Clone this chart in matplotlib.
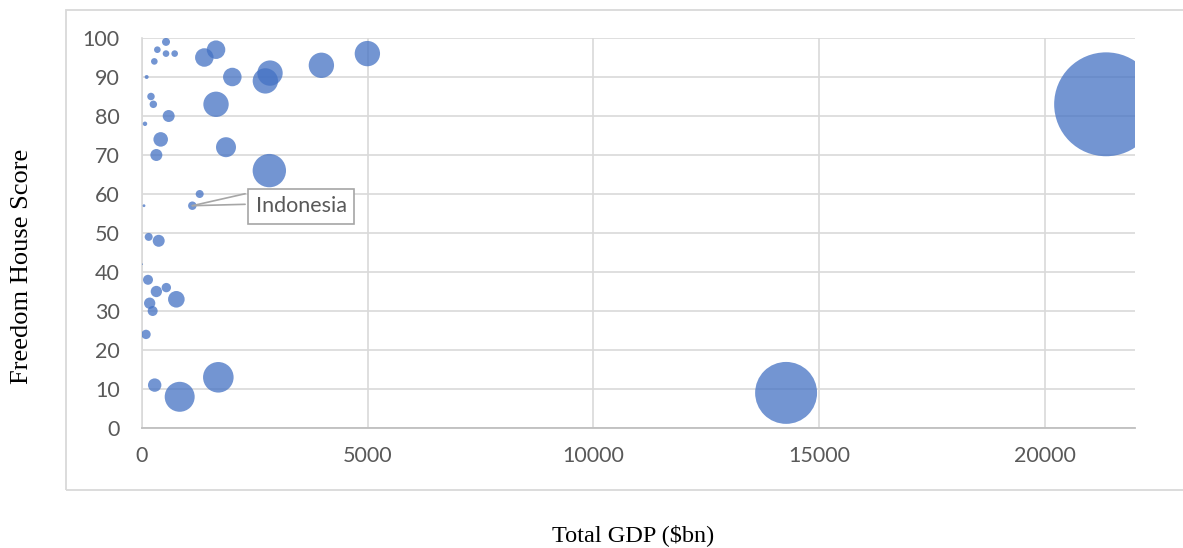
import numpy as np
import matplotlib
matplotlib.use("Agg")
import matplotlib.pyplot as plt
from matplotlib.patches import Rectangle


## DATA
# total GDP ($bn), Freedom House score, bubble size (relative area)
gdp = [532, 340, 532, 724, 273, 1381, 1640, 103, 2001, 2733,
       2836, 3974, 4993, 199, 251, 1640, 591, 66, 414, 318,
       1861, 2821, 1278, 1115, 44, 148, 370, 5, 133, 318,
       539, 761, 170, 236, 89, 281, 835, 1691, 14270, 21360]
score = [99, 97, 96, 96, 94, 95, 97, 90, 90, 89,
         91, 93, 96, 85, 83, 83, 80, 78, 74, 70,
         72, 66, 60, 57, 57, 49, 48, 42, 38, 35,
         36, 33, 32, 30, 24, 11, 8, 13, 9, 83]
bubble = [16, 11, 11, 11, 11, 86, 86, 4, 86, 161,
          161, 161, 161, 14, 14, 161, 36, 5, 53, 36,
          100, 279, 16, 18, 2, 16, 36, 0.5, 25, 32,
          22, 69, 32, 25, 22, 45, 225, 234, 961, 2704]

label_name = "Indonesia"
label_idx = 23

xticks = [0, 5000, 10000, 15000, 20000]
yticks = np.arange(0, 101, 10)


## PLOT
fig = plt.figure(figsize=(11.83, 5.48), dpi=100)

# chart frame (runs off the right edge like the screenshot)
fig.patches.append(Rectangle((66 / 1183, 58 / 548), 1.3, 480 / 548,
                             transform=fig.transFigure, fill=False,
                             ec="#D9D9D9", lw=1.3))

ax = fig.add_axes([142 / 1183, 120 / 548, 993 / 1183, 390 / 548])

sizes = np.array(bubble) * 2.07
ax.scatter(gdp, score, s=sizes, color="#4472C4", alpha=0.75,
           edgecolors="none", zorder=3)

ax.set_xlim(0, 22000)
ax.set_ylim(0, 100)
ax.set_xticks(xticks)
ax.set_yticks(yticks)
ax.grid(True, color="#D9D9D9", lw=1.2, zorder=0)
ax.set_axisbelow(True)

for side in ["top", "right"]:
    ax.spines[side].set_visible(False)
ax.spines["left"].set_color("#D9D9D9")
ax.spines["left"].set_linewidth(1.2)
ax.spines["bottom"].set_color("#BFBFBF")
ax.spines["bottom"].set_linewidth(1.3)

ax.tick_params(length=0, labelsize=15.5, labelcolor="#595959")
ax.tick_params(axis="y", pad=16)
ax.tick_params(axis="x", pad=13)
for lab in ax.get_xticklabels() + ax.get_yticklabels():
    lab.set_family("Lato")

# data label with leader lines
px, py = gdp[label_idx], score[label_idx]
for dy in (8.6, 1.0):
    ax.annotate("", xy=(px, py), xytext=(38, dy), textcoords="offset points",
                arrowprops=dict(arrowstyle="-", color="#A6A6A6", lw=1.2,
                                shrinkA=0, shrinkB=0), zorder=4)
ax.annotate(label_name, xy=(px, py), xytext=(78.5, -0.5),
            textcoords="offset points", ha="center", va="center",
            fontsize=15.5, color="#595959", family="Lato",
            bbox=dict(boxstyle="square,pad=0.35", fc="white",
                      ec="#A6A6A6", lw=1.2), zorder=5)

fig.text(633 / 1183, 1 - 535 / 548, "Total GDP ($bn)", ha="center",
         va="center", fontsize=17.5, family="Liberation Serif")
fig.text(22 / 1183, 1 - 266 / 548, "Freedom House Score", ha="center",
         va="center", rotation=90, fontsize=19, family="Liberation Serif")

fig.savefig("out.png", dpi=100)
